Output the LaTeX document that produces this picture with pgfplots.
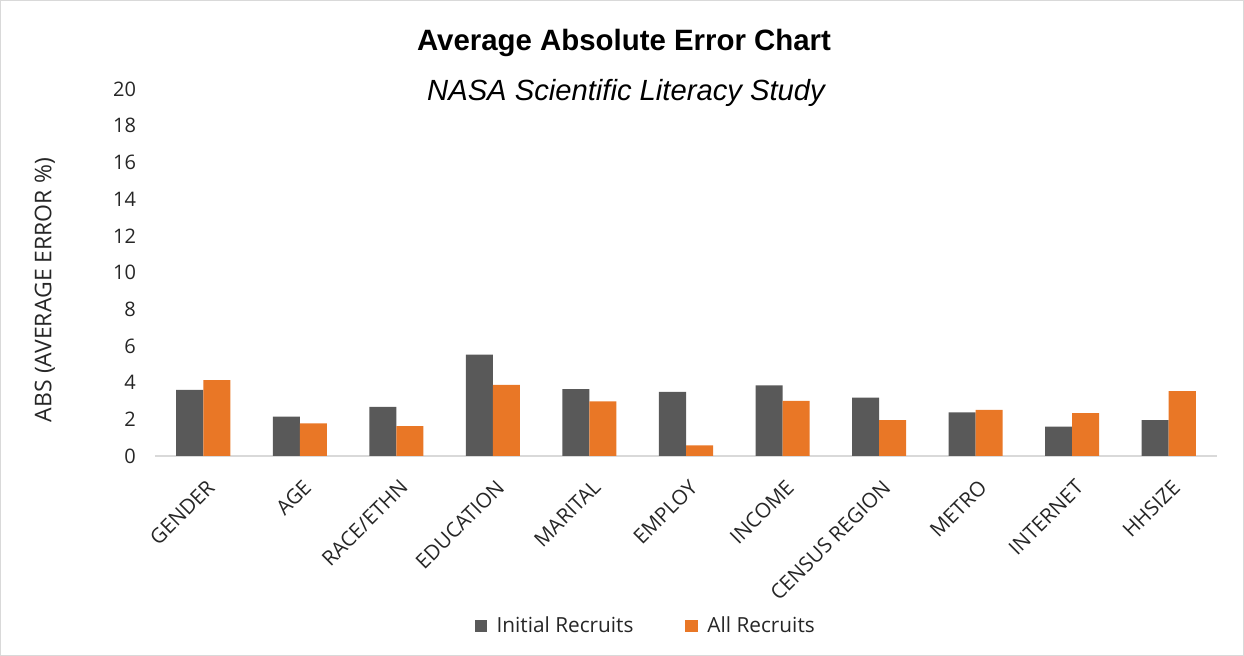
\documentclass[border=0pt]{standalone}
\usepackage{pgfplots}
\pgfplotsset{compat=1.18}
\usepackage{fontspec}
\setmainfont{Open Sans}
\newfontfamily\arialfont{Liberation Sans}
\definecolor{cgray}{HTML}{595959}
\definecolor{corange}{HTML}{E97726}
\definecolor{cframe}{HTML}{D9D9D9}
\begin{document}
\begin{tikzpicture}
\draw[cframe, line width=0.6pt] (0.3pt,0.3pt) rectangle (621.7pt,327.7pt);
\begin{axis}[
  at={(77.5pt,100pt)}, anchor=south west,
  scale only axis, width=531pt, height=183.5pt,
  xmin=-0.5, xmax=10.5, ymin=0, ymax=20,
  ytick={0,2,...,20},
  xtick={0,...,10},
  xticklabels={GENDER,AGE,RACE/ETHN,EDUCATION,MARITAL,EMPLOY,INCOME,CENSUS REGION,METRO,INTERNET,HHSIZE},
  axis x line*=bottom, axis y line*=left,
  x axis line style={cframe, line width=1.2pt, -},
  y axis line style={draw=none},
  major tick length=0pt,
  tick style={draw=none},
  /pgf/number format/assume math mode=true,
  tick label style={font=\fontsize{10pt}{12pt}\selectfont, text=black!85},
  yticklabel style={anchor=east, xshift=-6pt},
  xticklabel style={rotate=45, anchor=north east, inner sep=1pt, xshift=-6pt, yshift=-7.5pt, font=\fontsize{10.3pt}{12pt}\selectfont},
  ylabel={ABS (AVERAGE ERROR \%)},
  ylabel style={at={(axis description cs:-0.1036,0.452)}, anchor=center, rotate=0, font=\fontsize{11.5pt}{13pt}\selectfont, text=black!85},
  ybar=0pt, bar width=0.28,
  legend columns=2,
  legend style={at={(axis description cs:0.463,-0.463)}, anchor=center, draw=none,
     font=\fontsize{10.4pt}{12pt}\selectfont, text=black!85,
     /tikz/every even column/.append style={column sep=24pt}},
  legend image code/.code={\fill[#1] (0pt,-3.1pt) rectangle (6.2pt,3.1pt); \path (9pt,0pt);},
]
\addplot[fill=cgray, draw=none, bar shift=-0.14] coordinates {
 (0,3.60) (1,2.14) (2,2.67) (3,5.52) (4,3.65) (5,3.49) (6,3.85) (7,3.18) (8,2.38) (9,1.60) (10,1.96)};
\addplot[fill=corange, draw=none, bar shift=0.14] coordinates {
 (0,4.14) (1,1.78) (2,1.63) (3,3.87) (4,2.98) (5,0.58) (6,3.01) (7,1.96) (8,2.51) (9,2.34) (10,3.54)};
\legend{Initial Recruits, All Recruits}
\end{axis}
\node[font=\arialfont\bfseries\fontsize{14.7pt}{17pt}\selectfont] at (312pt,306.5pt) {Average Absolute Error Chart};
\node[font=\arialfont\itshape\fontsize{14.6pt}{17pt}\selectfont] at (313pt,281.5pt) {NASA Scientific Literacy Study};
\end{tikzpicture}
\end{document}
